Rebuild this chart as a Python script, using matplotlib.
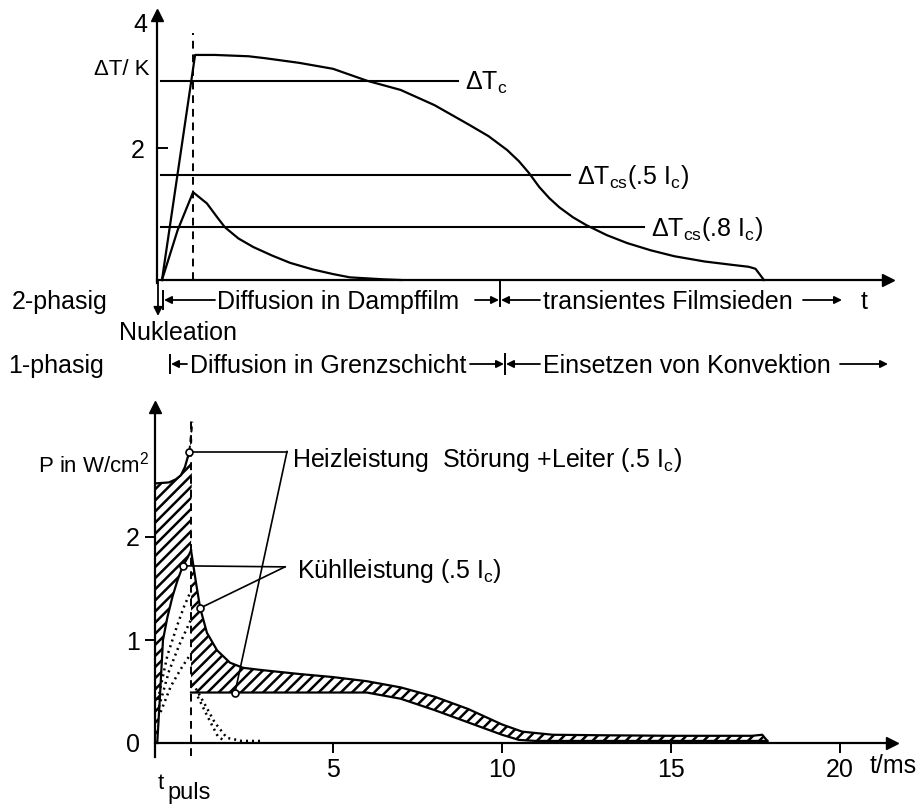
"""Temperature rise and power balance of a conductor after a heat pulse."""

import matplotlib.pyplot as plt
from matplotlib.lines import Line2D
from matplotlib.patches import FancyArrowPatch
import numpy as np

W, H = 919, 807

plt.rcParams['font.family'] = ['Liberation Sans', 'DejaVu Sans']
plt.rcParams['mathtext.fontset'] = 'custom'
plt.rcParams['mathtext.rm'] = 'Liberation Sans'
plt.rcParams['mathtext.it'] = 'Liberation Sans'
plt.rcParams['font.size'] = 18
plt.rcParams['hatch.linewidth'] = 1.8
plt.rcParams['hatch.color'] = 'black'

# pulse length in ms
t_puls = 0.8

# upper diagram: temperature rise in K
t_dT_film = [-0.06, 0.92, 1.5, 2.5, 3.0, 4.0, 5.0, 6.0, 7.0, 8.0, 9.0, 9.6,
             10.15, 10.5, 10.8, 11.1, 11.4, 11.7, 12.1, 12.5, 13.1, 13.7,
             14.4, 15.1, 16.0, 16.8, 17.3, 17.5, 17.75]
dT_film = [0.0, 3.41, 3.41, 3.39, 3.36, 3.29, 3.2, 3.02, 2.88, 2.65, 2.36,
           2.18, 1.97, 1.8, 1.62, 1.41, 1.24, 1.1, 0.95, 0.83, 0.68, 0.56,
           0.45, 0.36, 0.28, 0.23, 0.2, 0.17, 0.0]
t_dT_layer = [-0.06, 0.4, 0.86, 1.27, 1.56, 1.8, 2.2, 2.64, 3.2, 3.73, 4.4,
              5.0, 5.5, 6.5, 7.0]
dT_layer = [0.0, 0.75, 1.33, 1.16, 0.96, 0.8, 0.63, 0.5, 0.37, 0.26, 0.16,
            0.09, 0.04, 0.01, 0.0]

# critical temperature differences (level, ms where the line stops)
dT_levels = [3.02, 1.59, 0.8]
dT_level_ends = [8.7, 12.0, 14.2]
dT_level_labels = ['ΔT$_{\\mathrm{c}}$',
                   'ΔT$_{\\mathrm{cs}}$(.5 I$_{\\mathrm{c}}$)',
                   'ΔT$_{\\mathrm{cs}}$(.8 I$_{\\mathrm{c}}$)']

# lower diagram: power in W/cm^2
t_heat_pulse = [-0.27, 0.15, 0.35, 0.5, 0.62, 0.75]
heat_pulse = [2.52, 2.53, 2.56, 2.6, 2.68, 2.83]
t_heat_top = [0.75, 0.8, 0.84]
heat_top = [2.83, 3.0, 3.12]
t_heat = [0.8, 2.1, 4.0, 6.0, 7.0, 8.0, 9.0, 10.0, 10.5, 11.0, 17.85]
heat = [0.49, 0.49, 0.49, 0.49, 0.43, 0.32, 0.2, 0.08, 0.03, 0.02, 0.02]
t_cool_rise = [-0.2, -0.12, -0.03, 0.1, 0.25, 0.4, 0.56, 0.7, 0.8]
cool_rise = [0.0, 0.45, 1.0, 1.22, 1.42, 1.58, 1.72, 1.8, 1.87]
t_cool = [0.8, 0.95, 1.07, 1.27, 1.57, 1.95, 2.34, 2.84, 4.0, 5.0, 6.0, 7.0,
          8.0, 9.0, 10.0, 10.6, 11.5, 13.0, 15.0, 17.4, 17.7, 17.85]
cool = [1.87, 1.55, 1.31, 1.07, 0.9, 0.78, 0.73, 0.71, 0.67, 0.64, 0.6,
        0.54, 0.45, 0.33, 0.18, 0.11, 0.08, 0.075, 0.07, 0.07, 0.08, 0.02]

# single phase cooling (dotted)
t_dot_a = [-0.18, 0.1, 0.4, 0.6, 0.8]
dot_a = [0.42, 0.85, 1.15, 1.33, 1.48]
t_dot_b = [-0.1, 0.2, 0.5, 0.8]
dot_b = [0.3, 0.55, 0.72, 0.87]
t_dot_e = [-0.15, 0.15, 0.45, 0.8]
dot_e = [0.35, 0.7, 0.95, 1.2]
t_dot_c = [0.85, 1.2, 1.5, 1.86, 2.3, 2.9]
dot_c = [0.58, 0.38, 0.2, 0.05, 0.02, 0.02]
t_dot_d = [1.0, 1.3, 1.6, 1.8]
dot_d = [0.45, 0.25, 0.06, 0.02]

# time axis: pixel of t = 0 and pixels per ms
X0, XS = 164, 33.8


def fx(x):
    return x / W


def fy(y):
    return 1 - y / H


def box(left, top, right, bottom):
    return [left / W, 1 - bottom / H, (right - left) / W, (bottom - top) / H]


def arrow(x0, x1, y0, y1=None, scale=11):
    y1 = y0 if y1 is None else y1
    fig.add_artist(FancyArrowPatch(
        (fx(x0), fy(y0)), (fx(x1), fy(y1)), transform=fig.transFigure,
        arrowstyle='-|>', mutation_scale=scale, lw=1.3, color='k',
        shrinkA=0, shrinkB=0))


def bar(x, y0, y1):
    fig.add_artist(Line2D([fx(x), fx(x)], [fy(y0), fy(y1)],
                          transform=fig.transFigure, color='k', lw=1.4))


def setup(ax, ymin_px, ymax_px, y0_px, ys):
    left_px = ax.get_position().x0 * W
    right_px = ax.get_position().x1 * W
    ax.set_xlim((left_px - X0) / XS, (right_px - X0) / XS)
    ax.set_ylim((y0_px - ymin_px) / ys, (y0_px - ymax_px) / ys)
    for side in ('top', 'right'):
        ax.spines[side].set_visible(False)
    ax.spines['bottom'].set_position(('data', 0))
    for side in ('left', 'bottom'):
        ax.spines[side].set_linewidth(1.6)
    ax.patch.set_alpha(0)
    ax.plot(1, 0, '>', color='k', ms=9, transform=ax.get_yaxis_transform(),
            clip_on=False)
    ax.plot(0, 1, '^', color='k', ms=8, transform=ax.transAxes,
            clip_on=False)


fig = plt.figure(figsize=(W / 100, H / 100), dpi=100)

# ---------------- upper diagram ----------------
ax_t = fig.add_axes(box(157, 15, 888, 283))
setup(ax_t, 283, 15, 280, 66)
ax_t.set_xticks([])
ax_t.set_yticks([2])
ax_t.tick_params(axis='y', direction='in', length=8, width=1.4, pad=9,
                 labelsize=18)

ax_t.plot(t_dT_film, dT_film, color='k', lw=1.6)
ax_t.plot(t_dT_layer, dT_layer, color='k', lw=1.6)
for level, end, label in zip(dT_levels, dT_level_ends, dT_level_labels):
    ax_t.plot([-0.08, end], [level, level], color='k', lw=1.5)
    ax_t.text(end + 0.22, level - 0.14, label, ha='left', va='baseline',
              fontsize=18)
ax_t.plot([t_puls + 0.06, t_puls + 0.06], [0, 3.75], color='k', lw=1.4,
          ls=(0, (4, 3)))

fig.text(fx(140), fy(32), '4', ha='center', va='baseline', fontsize=18)
fig.text(fx(150), fy(75), 'ΔT/ K', ha='right', va='baseline', fontsize=16)

# phase rows under the upper diagram
fig.text(fx(12), fy(309), '2-phasig', ha='left', va='baseline')
arrow(158, 158, 281, 316, scale=13)
bar(163, 291, 309)
arrow(215, 164, 300)
fig.text(fx(217), fy(309), 'Diffusion in Dampffilm', ha='left',
         va='baseline')
arrow(475, 499, 300)
bar(500, 281, 306)
arrow(540, 501, 300)
fig.text(fx(543), fy(309), 'transientes Filmsieden', ha='left',
         va='baseline')
arrow(803, 842, 300)
fig.text(fx(864), fy(309), 't', ha='center', va='baseline')
fig.text(fx(178), fy(340), 'Nukleation', ha='center', va='baseline')

fig.text(fx(8), fy(373), '1-phasig', ha='left', va='baseline')
bar(170, 355, 373)
arrow(187, 171, 364)
fig.text(fx(190), fy(373), 'Diffusion in Grenzschicht', ha='left',
         va='baseline')
arrow(470, 504, 364)
bar(505, 354, 374)
arrow(540, 506, 364)
fig.text(fx(543), fy(373), 'Einsetzen von Konvektion', ha='left',
         va='baseline')
arrow(840, 888, 364)

# ---------------- lower diagram ----------------
ax_p = fig.add_axes(box(155, 407, 892, 757))
setup(ax_p, 757, 407, 743, 103)
ax_p.set_xticks([5, 10, 15, 20])
ax_p.set_yticks([0, 1, 2])
ax_p.tick_params(direction='out', length=7, width=1.4, pad=4, labelsize=18)
ax_p.yaxis.get_major_ticks()[0].tick1line.set_visible(False)

# hatched excess heating during the pulse
pre_x = np.concatenate([t_heat_pulse, t_heat_top, [t_puls],
                        t_cool_rise[::-1], [-0.27]])
pre_y = np.concatenate([heat_pulse, heat_top, [cool_rise[-1]],
                        cool_rise[::-1], [0]])
ax_p.fill(pre_x, pre_y, facecolor='none', edgecolor='k', lw=0, hatch='///')
# hatched excess cooling after the pulse
post_x = np.concatenate([t_cool, t_heat[::-1]])
post_y = np.concatenate([cool, heat[::-1]])
ax_p.fill(post_x, post_y, facecolor='none', edgecolor='k', lw=0,
          hatch='///')

ax_p.plot(t_heat_pulse, heat_pulse, color='k', lw=1.6)
ax_p.plot(t_heat_top, heat_top, color='k', lw=1.4, ls=(0, (3, 2)))
ax_p.plot(t_heat, heat, color='k', lw=1.6)
ax_p.plot(t_cool_rise, cool_rise, color='k', lw=1.6)
ax_p.plot(t_cool, cool, color='k', lw=1.6)
for tt, pp in ((t_dot_a, dot_a), (t_dot_b, dot_b), (t_dot_e, dot_e),
               (t_dot_c, dot_c), (t_dot_d, dot_d)):
    ax_p.plot(tt, pp, color='k', lw=1.8, ls=(0, (0.8, 1.6)))
ax_p.plot([t_puls, t_puls], [-0.13, 3.15], color='k', lw=1.4,
          ls=(0, (4, 3)))

# leader lines to the labelled curves
heiz_pts = [(heat_pulse[5], t_heat_pulse[5]), (heat[1], t_heat[1])]
kuehl_pts = [(cool_rise[6], t_cool_rise[6]), (cool[2], t_cool[2])]
for (p, t) in heiz_pts:
    ax_p.plot([t, 3.64], [p, 2.83], color='k', lw=1.2)
    ax_p.plot(t, p, 'o', ms=5, mfc='white', mec='k', mew=1.2)
for (p, t) in kuehl_pts:
    ax_p.plot([t, 3.58], [p, 1.71], color='k', lw=1.2)
    ax_p.plot(t, p, 'o', ms=5, mfc='white', mec='k', mew=1.2)

fig.text(fx(292), fy(467),
         'Heizleistung  Störung +Leiter (.5 I$_{\\mathrm{c}}$)',
         ha='left', va='baseline')
fig.text(fx(297), fy(578), 'Kühlleistung (.5 I$_{\\mathrm{c}}$)', ha='left',
         va='baseline')
fig.text(fx(38), fy(472), 'P in W/cm$^{2}$', ha='left', va='baseline',
         fontsize=16)
fig.text(fx(870), fy(773), 't/ms', ha='left', va='baseline')
fig.text(fx(161), fy(789), 't', ha='center', va='baseline', fontsize=16)
fig.text(fx(167), fy(799), 'puls', ha='left', va='baseline', fontsize=17)

fig.savefig('out.png', dpi=100)
